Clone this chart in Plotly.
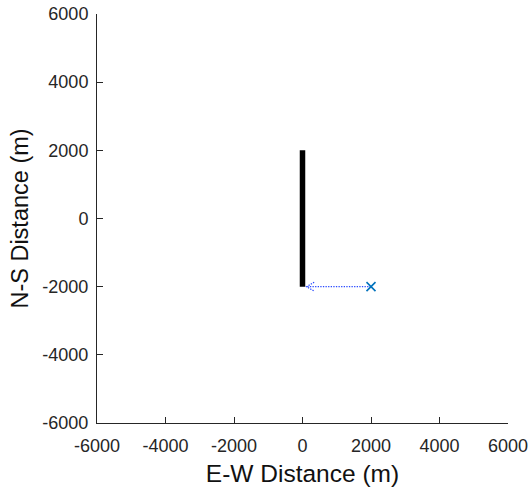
import plotly.graph_objects as go

# Fault trace (vertical segment along the N-S axis)
fault_x = [0, 0]
fault_y = [-2000, 2000]

# Observation station
station_x = [2000]
station_y = [-2000]

# Displacement vector drawn from the station
arrow_u = [-1880]
arrow_v = [0]

# Axis ticks
tick_vals = [-6000, -4000, -2000, 0, 2000, 4000, 6000]
tick_text = ["-6000", "-4000", "-2000", "0", "2000", "4000", "6000"]

AXIS_COLOR = "#262626"
ARROW_COLOR = "#2a4bff"
HEAD_LEN = 220
HEAD_HALF = 130
FONT = "Liberation Sans, Arial, sans-serif"

fig = go.Figure()

fig.add_trace(go.Scatter(
    x=fault_x, y=fault_y, mode="lines",
    line=dict(color="black", width=5.5),
    hoverinfo="skip", showlegend=False,
))

# vector shaft and open arrowhead
x0, y0 = station_x[0], station_y[0]
tip_x, tip_y = x0 + arrow_u[0], y0 + arrow_v[0]
fig.add_trace(go.Scatter(
    x=[x0, tip_x], y=[y0, tip_y], mode="lines",
    line=dict(color=ARROW_COLOR, width=1.3, dash="1.3px,1.3px"),
    hoverinfo="skip", showlegend=False,
))
fig.add_trace(go.Scatter(
    x=[tip_x + HEAD_LEN, tip_x, tip_x + HEAD_LEN],
    y=[tip_y + HEAD_HALF, tip_y, tip_y - HEAD_HALF],
    mode="lines",
    line=dict(color=ARROW_COLOR, width=1.3, dash="1.3px,1.3px"),
    hoverinfo="skip", showlegend=False,
))

fig.add_trace(go.Scatter(
    x=station_x, y=station_y, mode="markers",
    marker=dict(symbol="x-thin", size=9, line=dict(color="#0072BD", width=1.6)),
    hoverinfo="skip", showlegend=False,
))

axis_common = dict(
    tickvals=tick_vals, ticktext=tick_text,
    ticks="inside", ticklen=6, tickwidth=1, tickcolor=AXIS_COLOR,
    showline=True, linecolor=AXIS_COLOR, linewidth=1,
    showgrid=False, zeroline=False, mirror=False,
    automargin=False,
    tickfont=dict(family=FONT, size=18, color=AXIS_COLOR),
)

fig.update_layout(
    width=529, height=491,
    margin=dict(l=97, r=21, t=14, b=68),
    paper_bgcolor="white", plot_bgcolor="white",
    xaxis=dict(
        range=[-6000, 6000],
        ticklabelstandoff=6,
        title=dict(text="E-W Distance (m)", standoff=10,
                   font=dict(family=FONT, size=24.5, color="#111111")),
        **axis_common,
    ),
    yaxis=dict(
        range=[-6000, 6000],
        ticklabelstandoff=4,
        title=dict(text="N-S Distance (m)", standoff=7,
                   font=dict(family=FONT, size=23.5, color="#111111")),
        **axis_common,
    ),
)

fig.write_html("out.html")
